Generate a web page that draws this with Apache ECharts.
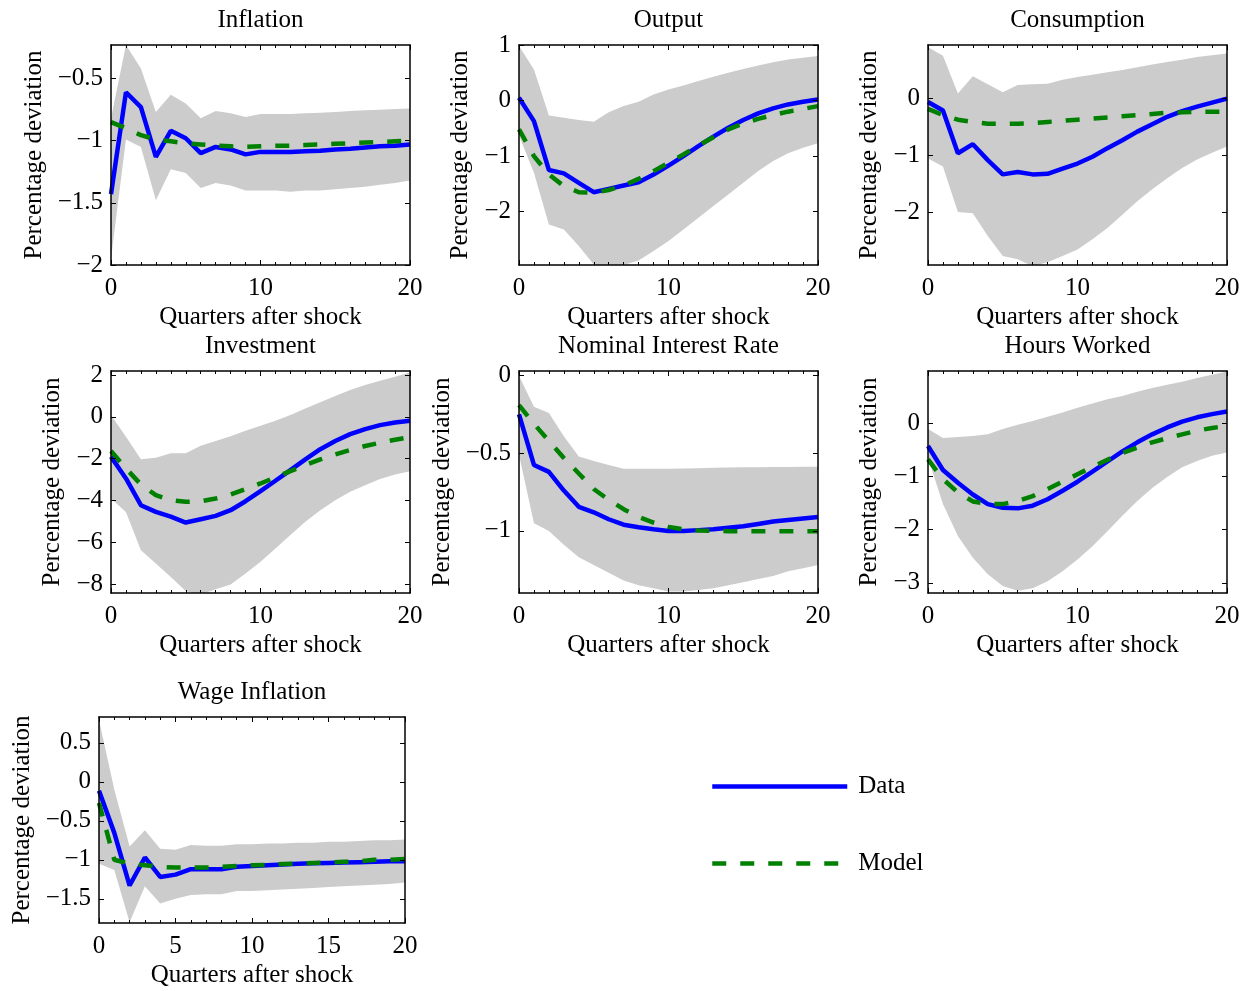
<!DOCTYPE html>
<html>
<head>
<meta charset="utf-8">
<script src="https://cdn.jsdelivr.net/npm/echarts@6/dist/echarts.min.js"></script>
<style>
  html, body { margin: 0; padding: 0; background: #fff; }
  #main { width: 1250px; height: 991px; }
</style>
</head>
<body>
<div id="main"></div>
<script>
  // quarters after the shock
  const quarters = [0, 1, 2, 3, 4, 5, 6, 7, 8, 9, 10, 11, 12, 13, 14, 15, 16, 17, 18, 19, 20];

  // Inflation
  const inflationData = [-1.43, -0.61, -0.73, -1.13, -0.92, -0.98, -1.10, -1.05, -1.07, -1.11, -1.09, -1.09, -1.09, -1.085, -1.08, -1.07, -1.065, -1.055, -1.045, -1.04, -1.03];
  const inflationModel = [-0.85, -0.90, -0.955, -0.99, -1.005, -1.02, -1.03, -1.04, -1.045, -1.05, -1.045, -1.04, -1.04, -1.035, -1.03, -1.025, -1.02, -1.015, -1.01, -1.005, -1.0];
  const inflationUpper = [-0.82, -0.23, -0.42, -0.77, -0.63, -0.70, -0.82, -0.76, -0.78, -0.81, -0.785, -0.785, -0.785, -0.78, -0.775, -0.77, -0.76, -0.755, -0.75, -0.745, -0.74];
  const inflationLower = [-1.95, -0.99, -1.05, -1.48, -1.23, -1.26, -1.38, -1.34, -1.36, -1.40, -1.40, -1.40, -1.41, -1.40, -1.40, -1.39, -1.38, -1.37, -1.355, -1.34, -1.32];

  // Output
  const outputData = [0.05, -0.37, -1.25, -1.31, -1.48, -1.65, -1.59, -1.53, -1.47, -1.33, -1.17, -1.0, -0.82, -0.65, -0.49, -0.35, -0.23, -0.14, -0.07, -0.02, 0.02];
  const outputModel = [-0.52, -1.0, -1.33, -1.54, -1.65, -1.66, -1.61, -1.53, -1.41, -1.27, -1.12, -0.97, -0.81, -0.66, -0.52, -0.41, -0.33, -0.26, -0.20, -0.15, -0.10];
  const outputUpper = [0.98, 0.56, -0.27, -0.31, -0.35, -0.38, -0.21, -0.10, -0.02, 0.11, 0.2, 0.27, 0.35, 0.43, 0.5, 0.57, 0.63, 0.69, 0.74, 0.77, 0.8];
  const outputLower = [-0.63, -1.3, -2.23, -2.32, -2.62, -2.95, -3.0, -2.96, -2.88, -2.71, -2.53, -2.32, -2.11, -1.9, -1.69, -1.48, -1.27, -1.09, -0.95, -0.85, -0.77];

  // Consumption
  const consumptionData = [-0.07, -0.22, -0.97, -0.81, -1.09, -1.34, -1.30, -1.34, -1.33, -1.24, -1.15, -1.03, -0.88, -0.74, -0.59, -0.46, -0.33, -0.23, -0.15, -0.08, -0.01];
  const consumptionModel = [-0.19, -0.30, -0.38, -0.42, -0.45, -0.45, -0.45, -0.44, -0.42, -0.40, -0.38, -0.36, -0.34, -0.32, -0.30, -0.28, -0.26, -0.25, -0.24, -0.24, -0.24];
  const consumptionUpper = [0.89, 0.74, 0.08, 0.38, 0.24, 0.10, 0.23, 0.24, 0.25, 0.32, 0.37, 0.41, 0.45, 0.49, 0.54, 0.59, 0.63, 0.67, 0.72, 0.75, 0.78];
  const consumptionLower = [-1.06, -1.20, -2.0, -2.02, -2.42, -2.77, -2.83, -2.95, -2.88, -2.77, -2.66, -2.48, -2.28, -2.05, -1.81, -1.6, -1.41, -1.23, -1.08, -0.96, -0.85];

  // Investment
  const investmentData = [-1.91, -2.95, -4.23, -4.55, -4.78, -5.06, -4.9, -4.74, -4.47, -4.04, -3.56, -3.06, -2.55, -2.04, -1.55, -1.16, -0.83, -0.59, -0.40, -0.27, -0.19];
  const investmentModel = [-1.64, -2.47, -3.24, -3.75, -3.99, -4.07, -4.04, -3.91, -3.72, -3.46, -3.19, -2.9, -2.6, -2.31, -2.04, -1.8, -1.59, -1.4, -1.24, -1.1, -0.97];
  const investmentUpper = [0.08, -0.96, -2.03, -1.96, -1.74, -1.75, -1.39, -1.16, -0.93, -0.67, -0.43, -0.19, 0.08, 0.4, 0.69, 0.99, 1.28, 1.52, 1.72, 1.91, 2.12];
  const investmentLower = [-3.91, -4.55, -6.38, -7.02, -7.66, -8.34, -8.5, -8.25, -8.02, -7.5, -6.94, -6.3, -5.66, -5.02, -4.47, -3.99, -3.59, -3.27, -2.98, -2.76, -2.6];

  // Nominal Interest Rate
  const rateData = [-0.25, -0.575, -0.62, -0.74, -0.845, -0.88, -0.925, -0.96, -0.976, -0.99, -1.0, -1.0, -0.995, -0.99, -0.98, -0.97, -0.955, -0.94, -0.93, -0.92, -0.91];
  const rateModel = [-0.19, -0.31, -0.42, -0.53, -0.63, -0.73, -0.80, -0.86, -0.91, -0.946, -0.974, -0.99, -0.998, -1.0, -1.002, -1.003, -1.003, -1.003, -1.003, -1.003, -1.003];
  const rateUpper = [0.0, -0.20, -0.24, -0.39, -0.52, -0.55, -0.575, -0.60, -0.60, -0.60, -0.60, -0.598, -0.596, -0.594, -0.592, -0.59, -0.59, -0.588, -0.588, -0.587, -0.586];
  const rateLower = [-0.51, -0.95, -1.0, -1.09, -1.17, -1.22, -1.27, -1.32, -1.35, -1.37, -1.39, -1.39, -1.38, -1.37, -1.35, -1.33, -1.31, -1.29, -1.26, -1.24, -1.22];

  // Hours Worked
  const hoursData = [-0.43, -0.88, -1.12, -1.34, -1.52, -1.59, -1.60, -1.55, -1.43, -1.27, -1.10, -0.91, -0.72, -0.53, -0.36, -0.21, -0.08, 0.03, 0.11, 0.17, 0.22];
  const hoursModel = [-0.68, -1.05, -1.30, -1.47, -1.52, -1.52, -1.46, -1.37, -1.24, -1.10, -0.96, -0.82, -0.69, -0.56, -0.46, -0.36, -0.28, -0.21, -0.14, -0.09, -0.05];
  const hoursUpper = [-0.11, -0.28, -0.26, -0.24, -0.21, -0.11, -0.03, 0.04, 0.12, 0.2, 0.29, 0.37, 0.45, 0.51, 0.59, 0.66, 0.72, 0.78, 0.85, 0.91, 0.97];
  const hoursLower = [-0.65, -1.52, -2.12, -2.53, -2.84, -3.06, -3.15, -3.10, -2.97, -2.78, -2.56, -2.31, -2.03, -1.74, -1.46, -1.22, -1.01, -0.83, -0.71, -0.61, -0.55];

  // Wage Inflation
  const wageData = [-0.115, -0.655, -1.33, -0.97, -1.22, -1.19, -1.12, -1.12, -1.12, -1.09, -1.08, -1.07, -1.06, -1.05, -1.045, -1.04, -1.035, -1.03, -1.025, -1.02, -1.02];
  const wageModel = [-0.27, -1.0, -1.05, -1.07, -1.09, -1.10, -1.10, -1.10, -1.09, -1.08, -1.07, -1.065, -1.055, -1.05, -1.04, -1.035, -1.025, -1.02, -1.0, -1.0, -0.99];
  const wageUpper = [0.79, -0.10, -0.83, -0.62, -0.86, -0.87, -0.81, -0.82, -0.82, -0.80, -0.80, -0.79, -0.79, -0.78, -0.78, -0.77, -0.77, -0.76, -0.75, -0.75, -0.74];
  const wageLower = [-1.05, -1.13, -1.80, -1.34, -1.56, -1.50, -1.45, -1.44, -1.44, -1.40, -1.40, -1.39, -1.38, -1.37, -1.36, -1.35, -1.34, -1.33, -1.32, -1.31, -1.29];

  // tick labels
  const inflationTicks = [-2, -1.5, -1, -0.5];
  const outputTicks = [-2, -1, 0, 1];
  const consumptionTicks = [-2, -1, 0];
  const investmentTicks = [-8, -6, -4, -2, 0, 2];
  const rateTicks = [-1, -0.5, 0];
  const hoursTicks = [-3, -2, -1, 0];
  const wageTicks = [-1.5, -1, -0.5, 0, 0.5];
  const quarterTicksWide = [0, 10, 20];
  const quarterTicksNarrow = [0, 5, 10, 15, 20];

  const titles = ['Inflation', 'Output', 'Consumption', 'Investment', 'Nominal Interest Rate', 'Hours Worked', 'Wage Inflation'];

  const panels = [
    {data: inflationData, model: inflationModel, upper: inflationUpper, lower: inflationLower, ticks: inflationTicks, xTicks: quarterTicksWide},
    {data: outputData, model: outputModel, upper: outputUpper, lower: outputLower, ticks: outputTicks, xTicks: quarterTicksWide},
    {data: consumptionData, model: consumptionModel, upper: consumptionUpper, lower: consumptionLower, ticks: consumptionTicks, xTicks: quarterTicksWide},
    {data: investmentData, model: investmentModel, upper: investmentUpper, lower: investmentLower, ticks: investmentTicks, xTicks: quarterTicksWide},
    {data: rateData, model: rateModel, upper: rateUpper, lower: rateLower, ticks: rateTicks, xTicks: quarterTicksWide},
    {data: hoursData, model: hoursModel, upper: hoursUpper, lower: hoursLower, ticks: hoursTicks, xTicks: quarterTicksWide},
    {data: wageData, model: wageModel, upper: wageUpper, lower: wageLower, ticks: wageTicks, xTicks: quarterTicksNarrow},
  ];

  // layout of each panel (pixels) and y limits
  const layouts = [
    {left: 111, top: 45, width: 299, height: 220, ymin: -2, ymax: -0.23, nameGap: 64, minorSplit: 10},
    {left: 519, top: 45, width: 299, height: 220, ymin: -2.96, ymax: 1, nameGap: 46, minorSplit: 10},
    {left: 928, top: 45, width: 299, height: 220, ymin: -2.93, ymax: 0.93, nameGap: 46, minorSplit: 10},
    {left: 111, top: 371, width: 299, height: 222, ymin: -8.43, ymax: 2.19, nameGap: 46, minorSplit: 10},
    {left: 519, top: 371, width: 299, height: 222, ymin: -1.4, ymax: 0.03, nameGap: 64, minorSplit: 10},
    {left: 928, top: 371, width: 299, height: 222, ymin: -3.19, ymax: 0.98, nameGap: 46, minorSplit: 10},
    {left: 99, top: 717, width: 306, height: 206, ymin: -1.81, ymax: 0.83, nameGap: 64, minorSplit: 5},
  ];

  const FONT = 'Liberation Serif';
  const FS = 25;
  const fmt = v => String(v).replace('-', '\u2212');
  const pairs = arr => arr.map((v, i) => [quarters[i], v]);

  const grids = [], xAxes = [], yAxes = [], series = [], title = [];

  panels.forEach((p, i) => {
    const L = layouts[i];
    grids.push({left: L.left, top: L.top, width: L.width, height: L.height});
    title.push({
      text: titles[i],
      left: L.left + L.width / 2,
      top: L.top - 37,
      padding: 0,
      textAlign: 'center',
      textStyle: {fontFamily: FONT, fontSize: FS, fontWeight: 'normal', color: '#000'}
    });

    const lineStyle = {color: '#000', width: 1.5};
    const xBase = {
      gridIndex: i, type: 'value', min: 0, max: 20, z: 10,
      interval: p.xTicks[1] - p.xTicks[0],
      axisLine: {show: true, onZero: false, lineStyle},
      axisTick: {show: true, inside: true, length: 5, customValues: p.xTicks, lineStyle: {color: '#000'}},
      minorTick: {show: true, splitNumber: L.minorSplit, length: 3, lineStyle: {color: '#000'}},
      splitLine: {show: false},
      minorSplitLine: {show: false},
    };
    xAxes.push(Object.assign({}, xBase, {
      position: 'bottom',
      axisLabel: {customValues: p.xTicks, formatter: fmt, fontFamily: FONT, fontSize: FS, color: '#000', margin: 11},
      name: 'Quarters after shock', nameLocation: 'middle', nameGap: 40,
      nameTextStyle: {fontFamily: FONT, fontSize: FS, color: '#000'}
    }));
    xAxes.push(Object.assign({}, xBase, {
      position: 'top',
      axisLabel: {show: false}
    }));

    const yBase = {
      gridIndex: i, type: 'value', min: L.ymin, max: L.ymax, z: 10,
      axisLine: {show: true, onZero: false, lineStyle},
      axisTick: {show: true, inside: true, length: 5, customValues: p.ticks, lineStyle: {color: '#000'}},
      splitLine: {show: false}
    };
    yAxes.push(Object.assign({}, yBase, {
      position: 'left',
      axisLabel: {customValues: p.ticks, formatter: fmt, fontFamily: FONT, fontSize: FS, color: '#000', margin: 8},
      name: 'Percentage deviation', nameLocation: 'middle', nameGap: L.nameGap,
      nameTextStyle: {fontFamily: FONT, fontSize: FS, color: '#000'}
    }));
    yAxes.push(Object.assign({}, yBase, {
      position: 'right',
      axisLabel: {show: false}
    }));

    const xi = i * 2, yi = i * 2;
    // gray band between lower and upper bounds, drawn as one polygon
    series.push({
      type: 'custom', xAxisIndex: xi, yAxisIndex: yi, silent: true, z: 1,
      data: quarters.map((q, k) => [q, p.lower[k], p.upper[k]]),
      encode: {x: 0, y: [1, 2]},
      renderItem: (params, api) => {
        if (params.dataIndex !== 0) return null;
        const top = p.upper.map((v, k) => api.coord([quarters[k], v]));
        const bottom = p.lower.map((v, k) => api.coord([quarters[k], v])).reverse();
        const cs = params.coordSys;
        return {
          type: 'polygon',
          shape: {points: top.concat(bottom)},
          style: {fill: '#cccccc'},
          clipPath: {type: 'rect', shape: {x: cs.x, y: cs.y, width: cs.width, height: cs.height}}
        };
      }
    });
    series.push({
      name: 'Data', type: 'line', xAxisIndex: xi, yAxisIndex: yi,
      data: pairs(p.data), symbol: 'none',
      lineStyle: {color: '#0000ff', width: 4.5}, itemStyle: {color: '#0000ff'}, z: 3
    });
    series.push({
      name: 'Model', type: 'line', xAxisIndex: xi, yAxisIndex: yi,
      data: pairs(p.model), symbol: 'none',
      lineStyle: {color: '#008000', width: 4.5, type: [14, 14]}, itemStyle: {color: '#008000'}, z: 4
    });
  });

  const chart = echarts.init(document.getElementById('main'));
  chart.setOption({
    animation: false,
    backgroundColor: '#fff',
    title,
    grid: grids,
    xAxis: xAxes,
    yAxis: yAxes,
    legend: {
      data: ['Data', 'Model'],
      orient: 'vertical',
      left: 710, top: 774, padding: 0,
      itemWidth: 135, itemHeight: 14, itemGap: 52,
      itemStyle: {opacity: 0},
      lineStyle: {width: 4.5},
      textStyle: {fontFamily: FONT, fontSize: FS, color: '#000', padding: [0, 0, 0, 6]}
    },
    series
  });
</script>
</body>
</html>
